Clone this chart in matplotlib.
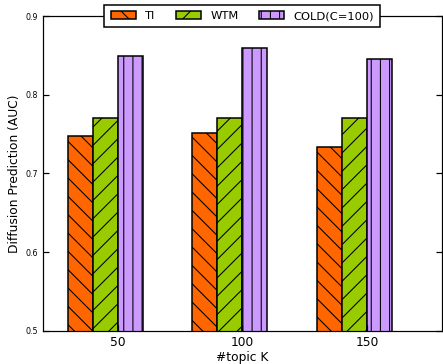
import numpy as np
import matplotlib
matplotlib.use("Agg")
import matplotlib.pyplot as plt

# values
topics = [50, 100, 150]
ti = [0.747, 0.751, 0.734]
wtm = [0.770, 0.770, 0.770]
cold = [0.849, 0.860, 0.845]
labels = ["TI", "WTM", "COLD(C=100)"]

DPI = 110
plt.rcParams["hatch.linewidth"] = 0.7
fig = plt.figure(figsize=(443 / DPI, 364 / DPI), dpi=DPI)
ax = fig.add_axes([0.097, 0.091, 0.900, 0.865])

x = np.array(topics, dtype=float)
w = 10
styles = [("#FF6600", "\\\\"), ("#99CC00", "//"), ("#CC99FF", "||")]
for i, (vals, (col, hat), lab) in enumerate(zip((ti, wtm, cold), styles, labels)):
    ax.bar(x + (i - 1.5) * w, vals, w, color=col, hatch=hat,
           edgecolor="black", linewidth=1.0, label=lab)

ax.set_xlim(20, 180)
ax.set_ylim(0.5, 0.9)
ax.set_xticks(topics)
ax.set_yticks([0.5, 0.6, 0.7, 0.8, 0.9])
ax.tick_params(axis="y", labelsize=5.2, direction="in", right=True, length=4)
ax.tick_params(axis="x", labelsize=8, direction="in", top=True, length=4)
ax.set_xlabel("#topic K", fontsize=8, labelpad=1)
ax.set_ylabel("Diffusion Prediction (AUC)", fontsize=8, labelpad=2.5)

leg = ax.legend(loc="center", bbox_to_anchor=(0.5, 1.0), ncol=3, fontsize=7.5,
                fancybox=False, framealpha=1, edgecolor="black",
                handlelength=2.2, handleheight=0.7, columnspacing=1.8,
                borderpad=0.55)
leg.get_frame().set_linewidth(1.0)

fig.savefig("out.png", dpi=DPI)
